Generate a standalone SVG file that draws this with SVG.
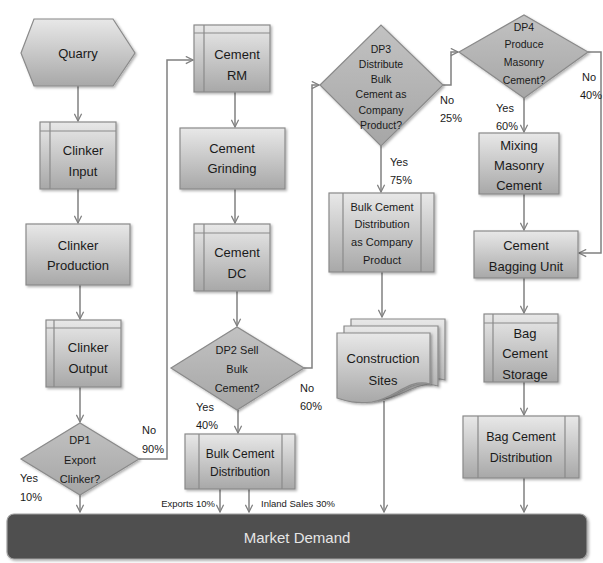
<svg xmlns="http://www.w3.org/2000/svg" width="603" height="563" viewBox="0 0 603 563">
<defs>
<linearGradient id="g" x1="0" y1="0" x2="0" y2="1">
<stop offset="0" stop-color="#e8e8e8"/>
<stop offset="1" stop-color="#a8a8a8"/>
</linearGradient>
<linearGradient id="gd" x1="0" y1="0" x2="0" y2="1">
<stop offset="0" stop-color="#c2c2c2"/>
<stop offset="1" stop-color="#a6a6a6"/>
</linearGradient>
<filter id="sh" x="-10%" y="-10%" width="130%" height="130%">
<feDropShadow dx="1.5" dy="1.5" stdDeviation="1" flood-color="#000" flood-opacity="0.3"/>
</filter>
<marker id="arr" viewBox="0 0 10 10" refX="9" refY="5" markerWidth="9" markerHeight="9" orient="auto" markerUnits="userSpaceOnUse">
<path d="M1,1 L9,5 L1,9" fill="none" stroke="#808080" stroke-width="1.4"/>
</marker>
</defs>
<style>
.n{fill:url(#g);stroke:#8a8a8a;stroke-width:1.2;filter:url(#sh)}
.d{fill:url(#gd);stroke:#8a8a8a;stroke-width:1.2;filter:url(#sh)}
.in{fill:none;stroke:#8a8a8a;stroke-width:1.2}
.t{font-family:"Liberation Sans",Arial,sans-serif;font-size:13px;fill:#1a1a1a;text-anchor:middle}
.s11{font-size:11px}
.s12{font-size:12px}
.s105{font-size:10.5px}
.lb{font-family:"Liberation Sans",Arial,sans-serif;font-size:11px;fill:#1a1a1a}
.sm{font-size:9.5px}
.c{fill:none;stroke:#808080;stroke-width:1.5;marker-end:url(#arr)}
</style>
<rect width="603" height="563" fill="#fff"/>

<g id="connectors">
<path class="c" d="M78,86 V121"/>
<path class="c" d="M78,189 V223"/>
<path class="c" d="M80,285 V319"/>
<path class="c" d="M80,387 V422"/>
<path class="c" d="M80,495 V512"/>
<path class="c" d="M139,459 H167 V60 H193"/>
<path class="c" d="M235,92 V127"/>
<path class="c" d="M235,189 V223"/>
<path class="c" d="M237,291 V326"/>
<path class="c" d="M238,410 V433"/>
<path class="c" d="M304,368 H312 V85 H319"/>
<path class="c" d="M220,489 V512"/>
<path class="c" d="M249,489 V512"/>
<path class="c" d="M381,146 V192"/>
<path class="c" d="M443,85 H451 V52 H458"/>
<path class="c" d="M382,272 V317"/>
<path class="c" d="M384,401 V512"/>
<path class="c" d="M524,98 V132"/>
<path class="c" d="M588,52 H601 V253 H579"/>
<path class="c" d="M524,194 V230"/>
<path class="c" d="M524,278 V313"/>
<path class="c" d="M524,382 V415"/>
<path class="c" d="M524,478 V512"/>
</g>

<g id="quarry">
<polygon class="n" points="21,53 34,19 113,19 135,53 113,86 34,86"/>
<text class="t" x="78" y="58">Quarry</text>
</g>

<g id="clinker-input">
<rect class="n" x="40" y="122" width="76" height="67"/>
<path class="in" d="M50,122 V189 M40,131 H116"/>
<text class="t" x="83" y="155">Clinker</text>
<text class="t" x="83" y="176">Input</text>
</g>

<g id="clinker-production">
<rect class="n" x="26" y="224" width="104" height="61"/>
<text class="t" x="78" y="250">Clinker</text>
<text class="t" x="78" y="270">Production</text>
</g>

<g id="clinker-output">
<rect class="n" x="46" y="320" width="75" height="67"/>
<path class="in" d="M54,320 V387 M46,328 H121"/>
<text class="t" x="88" y="352">Clinker</text>
<text class="t" x="88" y="373">Output</text>
</g>

<g id="dp1">
<polygon class="d" points="21,459 80,423 139,459 80,495"/>
<text class="t s11" x="80" y="444">DP1</text>
<text class="t s11" x="80" y="464">Export</text>
<text class="t s11" x="80" y="483">Clinker?</text>
</g>

<g id="cement-rm">
<rect class="n" x="194" y="25" width="76" height="67"/>
<path class="in" d="M204,25 V92 M194,33 H270"/>
<text class="t" x="237" y="59">Cement</text>
<text class="t" x="237" y="80">RM</text>
</g>

<g id="cement-grinding">
<rect class="n" x="180" y="128" width="105" height="61"/>
<text class="t" x="232" y="153">Cement</text>
<text class="t" x="232" y="173">Grinding</text>
</g>

<g id="cement-dc">
<rect class="n" x="194" y="224" width="76" height="67"/>
<path class="in" d="M204,224 V291 M194,233 H270"/>
<text class="t" x="237" y="257">Cement</text>
<text class="t" x="237" y="278">DC</text>
</g>

<g id="dp2">
<polygon class="d" points="171,368 237,327 304,368 237,410"/>
<text class="t s11" x="237" y="354">DP2 Sell</text>
<text class="t s11" x="237" y="373">Bulk</text>
<text class="t s11" x="237" y="392">Cement?</text>
</g>

<g id="bulk-cement-distribution">
<rect class="n" x="185" y="434" width="110" height="55"/>
<path class="in" d="M199,434 V489 M282,434 V489"/>
<text class="t s12" x="240" y="458">Bulk Cement</text>
<text class="t s12" x="240" y="476">Distribution</text>
</g>

<g id="dp3">
<polygon class="d" points="320,85 381,25 443,85 381,146"/>
<text class="t s105" x="381" y="53">DP3</text>
<text class="t s105" x="381" y="68">Distribute</text>
<text class="t s105" x="381" y="83">Bulk</text>
<text class="t s105" x="381" y="98">Cement as</text>
<text class="t s105" x="381" y="114">Company</text>
<text class="t s105" x="381" y="129">Product?</text>
</g>

<g id="bulk-company-product">
<rect class="n" x="329" y="193" width="105" height="79"/>
<path class="in" d="M343,193 V272 M421,193 V272"/>
<text class="t s11" x="382" y="211">Bulk Cement</text>
<text class="t s11" x="382" y="228">Distribution</text>
<text class="t s11" x="382" y="246">as Company</text>
<text class="t s11" x="382" y="264">Product</text>
</g>

<g id="construction-sites">
<path class="n" d="M351,319 H445 V380 C423,374 411,392 387,395 C371,397 361,394 351,391 Z"/>
<path class="n" d="M344,326 H438 V386 C416,380 404,397 380,400 C364,402 354,399 344,396 Z"/>
<path class="n" d="M337,333 H430 V384 C408,378 396,398 372,402 C356,404 346,401 337,398 Z"/>
<text class="t" x="383" y="363">Construction</text>
<text class="t" x="383" y="385">Sites</text>
</g>

<g id="dp4">
<polygon class="d" points="459,52 524,15 588,52 524,98"/>
<text class="t s105" x="524" y="31">DP4</text>
<text class="t s105" x="524" y="48">Produce</text>
<text class="t s105" x="524" y="66">Masonry</text>
<text class="t s105" x="524" y="84">Cement?</text>
</g>

<g id="mixing-masonry-cement">
<rect class="n" x="479" y="133" width="80" height="61"/>
<text class="t" x="519" y="150">Mixing</text>
<text class="t" x="519" y="170">Masonry</text>
<text class="t" x="519" y="190">Cement</text>
</g>

<g id="cement-bagging-unit">
<rect class="n" x="474" y="231" width="104" height="47"/>
<text class="t" x="526" y="250">Cement</text>
<text class="t" x="526" y="271">Bagging Unit</text>
</g>

<g id="bag-cement-storage">
<rect class="n" x="484" y="314" width="74" height="68"/>
<path class="in" d="M493,314 V382 M484,323 H558"/>
<text class="t" x="525" y="338">Bag</text>
<text class="t" x="525" y="358">Cement</text>
<text class="t" x="525" y="379">Storage</text>
</g>

<g id="bag-cement-distribution">
<rect class="n" x="463" y="416" width="116" height="62"/>
<path class="in" d="M478,416 V478 M565,416 V478"/>
<text class="t" x="521" y="441" style="font-size:12.5px">Bag Cement</text>
<text class="t" x="521" y="462" style="font-size:12.5px">Distribution</text>
</g>

<g id="market-demand">
<rect x="7" y="514" width="580" height="45" rx="7" fill="#505050" stroke="#a0a0a0" stroke-width="1.2" filter="url(#sh)"/>
<text x="297" y="543" text-anchor="middle" font-family="'Liberation Sans',Arial,sans-serif" font-size="15" fill="#e6e6e6">Market Demand</text>
</g>

<g id="labels">
<text class="lb" x="20" y="482">Yes</text>
<text class="lb" x="20" y="501">10%</text>
<text class="lb" x="142" y="434">No</text>
<text class="lb" x="142" y="453">90%</text>
<text class="lb" x="196" y="411">Yes</text>
<text class="lb" x="196" y="429">40%</text>
<text class="lb" x="300" y="392">No</text>
<text class="lb" x="300" y="410">60%</text>
<text class="lb" x="440" y="104">No</text>
<text class="lb" x="440" y="122">25%</text>
<text class="lb" x="390" y="166">Yes</text>
<text class="lb" x="390" y="184">75%</text>
<text class="lb" x="496" y="112">Yes</text>
<text class="lb" x="496" y="130">60%</text>
<text class="lb" x="582" y="81">No</text>
<text class="lb" x="580" y="99">40%</text>
<text class="lb sm" x="215" y="507" text-anchor="end">Exports 10%</text>
<text class="lb sm" x="261" y="507">Inland Sales 30%</text>
</g>
</svg>
